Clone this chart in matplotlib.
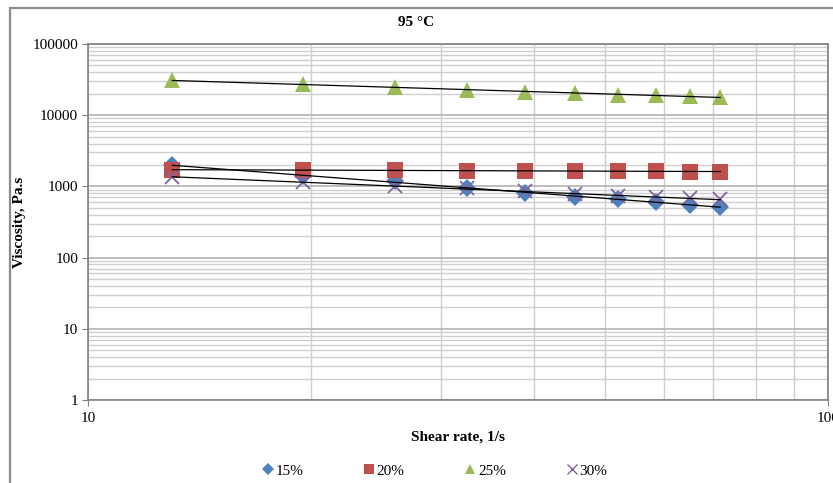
import numpy as np
import matplotlib.pyplot as plt
from matplotlib.patches import Rectangle
from matplotlib.ticker import LogLocator, NullFormatter, FixedLocator

plt.rcParams['font.family'] = ['Liberation Serif', 'DejaVu Serif']

# shear rate (1/s) and viscosity (Pa.s) for each concentration
shear = [13, 19.5, 26, 32.5, 39, 45.5, 52, 58.5, 65, 71.5]
visc_15 = [2000, 1400, 1180, 940, 820, 720, 660, 610, 550, 510]
visc_20 = [1700, 1700, 1700, 1650, 1650, 1650, 1650, 1650, 1600, 1600]
visc_25 = [31000, 27000, 25000, 22500, 21000, 20500, 19500, 19000, 18500, 18000]
visc_30 = [1350, 1150, 1000, 960, 850, 780, 730, 700, 680, 660]
labels = ['15%', '20%', '25%', '30%']


def power_fit(x, y):
    # Excel-style power trendline: y = a * x^b
    b, loga = np.polyfit(np.log(x), np.log(y), 1)
    xx = np.array([x[0], x[-1]])
    return xx, np.exp(loga) * xx ** b


fig = plt.figure(figsize=(8.33, 4.83), dpi=100)
ax = fig.add_axes([88 / 833, 1 - 400 / 483, 740 / 833, 356 / 483])

series = [
    (visc_15, 'D', '#4F81BD', 9.5),
    (visc_20, 's', '#C0504D', 11),
    (visc_25, '^', '#9BBB59', 12),
    (visc_30, 'x', '#8064A2', 10),
]
for (vals, mk, col, ms), lab in zip(series, labels):
    if mk == 'x':
        ax.plot(shear, vals, linestyle='none', marker='x', color=col,
                markersize=ms, markeredgewidth=1.3, zorder=3, label=lab)
    else:
        ax.plot(shear, vals, linestyle='none', marker=mk, color=col,
                markersize=ms, markeredgewidth=0, zorder=3, label=lab)

# power trendlines on top of the markers
for vals, *_ in series:
    xx, yy = power_fit(np.array(shear), np.array(vals))
    ax.plot(xx, yy, color='black', linewidth=0.9, zorder=4)

ax.set_xscale('log')
ax.set_yscale('log')
ax.set_xlim(10, 100)
ax.set_ylim(1, 100000)

ax.yaxis.set_major_locator(FixedLocator([1, 10, 100, 1000, 10000, 100000]))
ax.set_yticklabels(['1', '10', '100', '1000', '10000', '100000'])
ax.yaxis.set_minor_locator(LogLocator(base=10, subs=np.arange(2, 10), numticks=20))
ax.yaxis.set_minor_formatter(NullFormatter())
ax.xaxis.set_major_locator(FixedLocator([10, 100]))
ax.set_xticklabels(['10', '100'])
ax.xaxis.set_minor_locator(LogLocator(base=10, subs=np.arange(2, 10), numticks=20))
ax.xaxis.set_minor_formatter(NullFormatter())

ax.grid(which='major', color='#b8b8b8', linewidth=1.3)
ax.grid(which='minor', color='#cfcfcf', linewidth=1.0)
ax.set_axisbelow(True)

ax.tick_params(which='major', direction='out', length=4, color='#808080',
               labelsize=11, pad=3)
ax.tick_params(which='minor', length=0)
ax.tick_params(axis='x', pad=5)
for s in ax.spines.values():
    s.set_color('#808080')
    s.set_linewidth(1.2)

ax.set_xlabel('Shear rate, 1/s', fontsize=11, fontweight='bold', va='center')
ax.set_ylabel('Viscosity, Pa.s', fontsize=11, fontweight='bold', va='center')
ax.xaxis.set_label_coords(0.5, -37 / 356)
ax.yaxis.set_label_coords(-68 / 740, 0.5)
fig.text(0.5, 1 - 22 / 483, '95 \u00b0C', ha='center', va='center',
         fontsize=11, fontweight='bold')

leg_handles = []
for (vals, mk, col, ms), lab in zip(series, labels):
    if mk == 'x':
        leg_handles.append(plt.Line2D([], [], linestyle='none', marker='x', color=col,
                                      markersize=7, markeredgewidth=1))
    else:
        leg_handles.append(plt.Line2D([], [], linestyle='none', marker=mk, color=col,
                                      markersize=6.5, markeredgewidth=0))
fig.legend(leg_handles, labels, loc='center', bbox_to_anchor=(433 / 833, 1 - 471 / 483),
           ncol=4, frameon=False, fontsize=11, handletextpad=-0.1,
           columnspacing=3.7, handlelength=1.2)

# outer chart border
fig.add_artist(Rectangle((10 / 833, -0.2), 1.2, 1.2 - 8 / 483, transform=fig.transFigure,
                         fill=False, edgecolor='#8c8c8c', linewidth=1.6))

fig.savefig('out.png', dpi=100)
